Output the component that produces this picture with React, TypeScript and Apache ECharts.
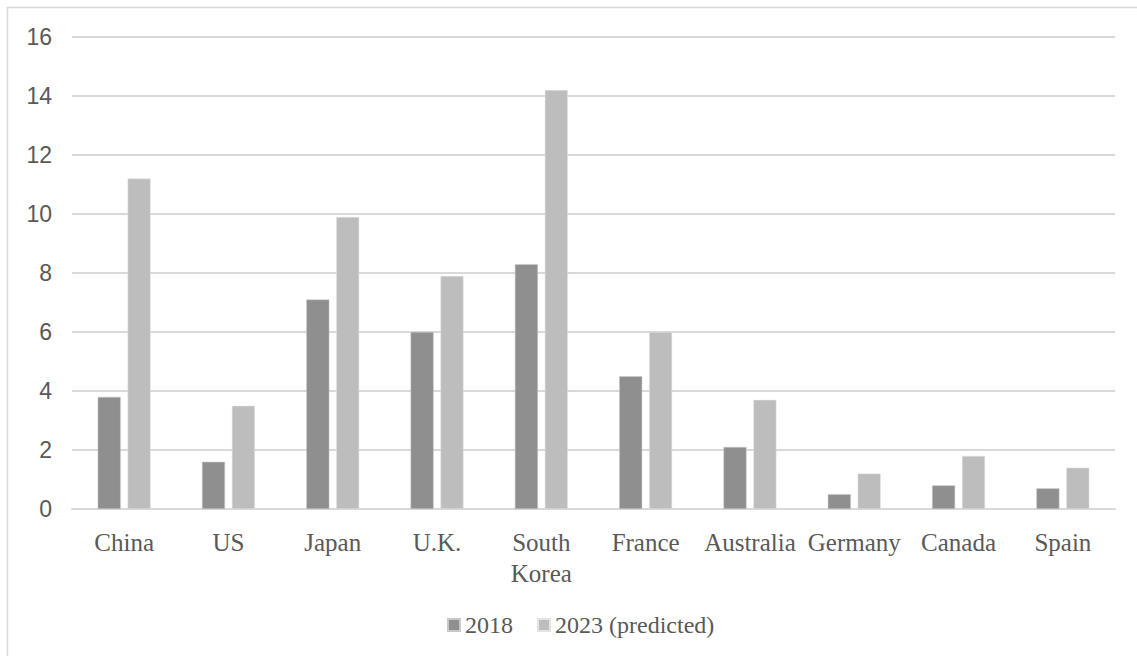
import React, { useEffect, useRef } from "react";
import * as echarts from "echarts";

const categories = ["China", "US", "Japan", "U.K.", "South\nKorea", "France", "Australia", "Germany", "Canada", "Spain"];
const values2018 = [3.8, 1.6, 7.1, 6.0, 8.3, 4.5, 2.1, 0.5, 0.8, 0.7];
const values2023 = [11.2, 3.5, 9.9, 7.9, 14.2, 6.0, 3.7, 1.2, 1.8, 1.4];
const seriesNames = ["2018", "2023 (predicted)"];
const yTicks = { min: 0, max: 16, interval: 2 };

export default function App() {
  const ref = useRef<HTMLDivElement>(null);
  useEffect(() => {
    document.body.style.margin = "0";
    const chart = echarts.init(ref.current!, null, { renderer: "svg" });
    chart.setOption({
      animation: false,
      backgroundColor: "#ffffff",
      graphic: [
        {
          type: "rect",
          shape: { x: 7.5, y: 7.5, width: 1200, height: 700 },
          style: { fill: "none", stroke: "#d9d9d9", lineWidth: 1.5 },
          silent: true,
        },
      ],
      grid: { left: 72, right: 22, top: 37, bottom: 147, containLabel: false },
      legend: {
        data: seriesNames,
        bottom: 14,
        left: 442,
        itemWidth: 12,
        itemHeight: 12,
        itemGap: 24,
        icon: "rect",
        textStyle: { fontFamily: "Liberation Serif", fontSize: 24, color: "#595959" },
      },
      xAxis: {
        type: "category",
        data: categories,
        axisLine: { show: true, lineStyle: { color: "#d9d9d9", width: 2 } },
        axisTick: { show: false },
        axisLabel: {
          interval: 0,
          margin: 18,
          fontFamily: "Liberation Serif",
          fontSize: 25,
          lineHeight: 31,
          color: "#595959",
        },
      },
      yAxis: {
        type: "value",
        min: yTicks.min,
        max: yTicks.max,
        interval: yTicks.interval,
        axisLine: { show: false },
        axisTick: { show: false },
        splitLine: { lineStyle: { color: "#d9d9d9", width: 2 } },
        axisLabel: {
          margin: 20,
          fontFamily: "Liberation Sans",
          fontSize: 23,
          color: "#595959",
        },
      },
      series: [
        {
          name: seriesNames[0],
          type: "bar",
          data: values2018,
          barWidth: 23,
          barGap: "30%",
          itemStyle: { color: "#8f8f8f", borderColor: "#c8c8c8", borderWidth: 0.5 },
        },
        {
          name: seriesNames[1],
          type: "bar",
          data: values2023,
          barWidth: 23,
          barGap: "30%",
          itemStyle: { color: "#bdbdbd", borderColor: "#e4e4e4", borderWidth: 0.5 },
        },
      ],
    });
    return () => chart.dispose();
  }, []);
  return <div ref={ref} style={{ width: 1137, height: 656 }} />;
}
